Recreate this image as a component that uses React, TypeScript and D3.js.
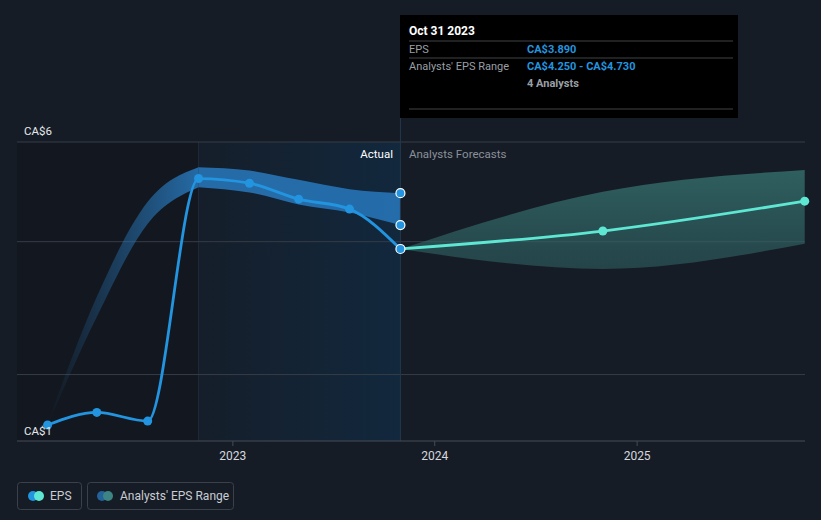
import React from "react";
import * as d3 from "d3";

const W = 821;
const H = 520;

// Actual EPS (quarterly)
const epsDates = ["2022-01-31", "2022-04-30", "2022-07-31", "2022-10-31", "2023-01-31", "2023-04-30", "2023-07-31", "2023-10-31"];
const epsValues = [1.24, 1.43, 1.3, 4.95, 4.88, 4.64, 4.49, 3.89];

// Historical analysts' range
const rangeLow = [1.24, 2.87, 4.27, 4.82, 4.74, 4.56, 4.44, 4.25];
const rangeHigh = [1.26, 3.17, 4.6, 5.12, 5.07, 4.93, 4.79, 4.73];

// Forecast
const fcDates = ["2023-10-31", "2024-10-31", "2025-10-31"];
const fcValues = [3.89, 4.16, 4.61];
const fcLow = [3.89, 3.59, 3.97];
const fcHigh = [3.89, 4.75, 5.08];

const gridValues = [5.5, 4, 2];
const xTickYears = [2023, 2024, 2025];

const parse = (s: string) => {
  const [y, m, d] = s.split("-").map(Number);
  return new Date(y, m - 1, d);
};

export default function App() {
  const x = d3.scaleTime().domain([new Date(2022, 0, 1), new Date(2026, 0, 1)]).range([31, 839]);
  const y = d3.scaleLinear().domain([1, 5.5]).range([441, 142]);

  const eps = epsDates.map((d, i) => ({ d: parse(d), v: epsValues[i], lo: rangeLow[i], hi: rangeHigh[i] }));
  const fc = fcDates.map((d, i) => ({ d: parse(d), v: fcValues[i], lo: fcLow[i], hi: fcHigh[i] }));

  const line = d3.line<any>().x((p) => x(p.d)).y((p) => y(p.v)).curve(d3.curveMonotoneX);
  const area = d3
    .area<any>()
    .x((p) => x(p.d))
    .y0((p) => y(p.lo))
    .y1((p) => y(p.hi))
    .curve(d3.curveMonotoneX);

  const left = 17;
  const right = 805;
  const xStart = x(parse("2022-10-31"));
  const xNow = x(parse("2023-10-31"));
  const xFirst = x(eps[0].d);

  const blue = "#2394df";
  const teal = "#5ee8d4";
  const font = "Roboto, 'Open Sans', sans-serif";
  const last = eps[eps.length - 1];

  return (
    <svg width={W} height={H} style={{ position: "absolute", left: 0, top: 0, background: "#161c26" }} fontFamily={font}>
      <defs>
        <linearGradient id="hl" x1="0" x2="1" y1="0" y2="0">
          <stop offset="0" stopColor="#151e2a" />
          <stop offset="1" stopColor="#12283d" />
        </linearGradient>
        <linearGradient id="histBand" gradientUnits="userSpaceOnUse" x1={xFirst} x2={xStart} y1="0" y2="0">
          <stop offset="0" stopColor="#2879bd" stopOpacity="0" />
          <stop offset="1" stopColor="#2879bd" stopOpacity="0.85" />
        </linearGradient>
        <linearGradient id="fcBand" x1="0" x2="0" y1="0" y2="1">
          <stop offset="0" stopColor="#3a7c78" stopOpacity="0.7" />
          <stop offset="1" stopColor="#2e5f60" stopOpacity="0.6" />
        </linearGradient>
      </defs>
      <rect x={0} y={0} width={W} height={H} fill="#161c26" />
      {/* past region */}
      <rect x={left} y={142} width={xStart - left} height={441 - 142} fill="#131820" />
      <rect x={xStart} y={142} width={xNow - xStart} height={441 - 142} fill="url(#hl)" />
      <line x1={xStart} x2={xStart} y1={142} y2={441} stroke="#1f2a38" strokeWidth={1} />
      {/* grid */}
      {gridValues.map((g) => (
        <line key={g} x1={left} x2={right} y1={y(g)} y2={y(g)} stroke="#353c47" strokeWidth={1} />
      ))}
      {/* bands */}
      <path d={area(eps.slice(0, 4)) || ""} fill="url(#histBand)" />
      <path d={area(eps.slice(3)) || ""} fill="#2879bd" fillOpacity={0.85} />
      <path d={area(fc) || ""} fill="url(#fcBand)" />
      {/* now line */}
      <line x1={xNow} x2={xNow} y1={117} y2={441} stroke="#24374d" strokeWidth={1} />
      {/* lines */}
      <path d={line(fc) || ""} fill="none" stroke={teal} strokeWidth={2.8} />
      <path d={line(eps) || ""} fill="none" stroke={blue} strokeWidth={2.8} />
      {eps.slice(0, -1).map((p, i) => (
        <circle key={i} cx={x(p.d)} cy={y(p.v)} r={4.5} fill={blue} />
      ))}
      {fc.slice(1).map((p, i) => (
        <circle key={i} cx={x(p.d)} cy={y(p.v)} r={4.5} fill={teal} />
      ))}
      {[last.hi, last.lo, last.v].map((v, i) => (
        <circle key={i} cx={xNow} cy={y(v)} r={4.5} fill={blue} stroke="#ffffff" strokeWidth={1.2} />
      ))}
      {/* axis */}
      <line x1={left} x2={right} y1={441} y2={441} stroke="#454c57" strokeWidth={1} />
      {xTickYears.map((yr) => {
        const tx = x(new Date(yr, 0, 1));
        return (
          <g key={yr}>
            <line x1={tx} x2={tx} y1={441} y2={446} stroke="#454c57" />
            <text x={tx} y={460} textAnchor="middle" fill="#d5d8dc" fontSize={12}>
              {yr}
            </text>
          </g>
        );
      })}
      <text x={24} y={135} fill="#e6e8ea" fontSize={11.5}>CA$6</text>
      <text x={24} y={435} fill="#e6e8ea" fontSize={11.5}>CA$1</text>
      <text x={393} y={158} textAnchor="end" fill="#ffffff" fontSize={11.5}>Actual</text>
      <text x={409} y={158} fill="#8a9099" fontSize={11.5}>Analysts Forecasts</text>
      {/* tooltip */}
      <rect x={400} y={15} width={338} height={103} fill="#000000" />
      <text x={409} y={35} fill="#ffffff" fontSize={12} fontWeight="bold">Oct 31 2023</text>
      <line x1={409} x2={733} y1={41} y2={41} stroke="#3f4247" />
      <line x1={409} x2={733} y1={58} y2={58} stroke="#3f4247" />
      <line x1={409} x2={733} y1={109} y2={109} stroke="#3f4247" />
      <text x={409} y={53} fill="#9a9fa5" fontSize={11}>EPS</text>
      <text x={527} y={53} fill={blue} fontSize={11} fontWeight="bold">CA$3.890</text>
      <text x={409} y={70} fill="#9a9fa5" fontSize={11}>Analysts' EPS Range</text>
      <text x={527} y={70} fill={blue} fontSize={11} fontWeight="bold">CA$4.250 - CA$4.730</text>
      <text x={527} y={87} fill="#9a9fa5" fontSize={11} fontWeight="bold">4 Analysts</text>
      {/* legend */}
      <rect x={17.5} y={482.5} width={64} height={27} rx={3} fill="none" stroke="#3a414b" />
      <circle cx={33} cy={496} r={5} fill={blue} />
      <circle cx={39} cy={496} r={5} fill={teal} />
      <text x={50} y={500} fill="#c9cdd2" fontSize={12}>EPS</text>
      <rect x={87.5} y={482.5} width={146} height={27} rx={3} fill="none" stroke="#3a414b" />
      <circle cx={102} cy={496} r={5} fill="#23639a" />
      <circle cx={108} cy={496} r={5} fill="#3c8584" />
      <text x={120} y={500} fill="#c9cdd2" fontSize={12}>Analysts' EPS Range</text>
    </svg>
  );
}
